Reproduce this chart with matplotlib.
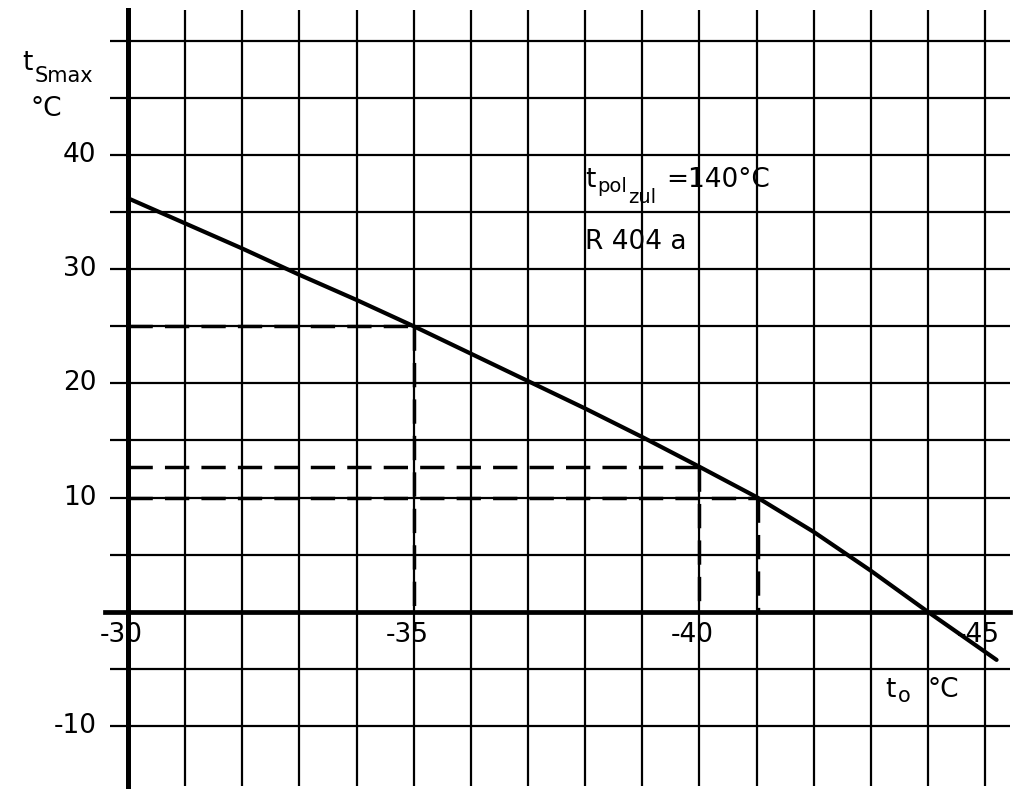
import matplotlib
matplotlib.use("Agg")
import matplotlib.pyplot as plt
import numpy as np

# Kurve t_Smax ueber t_0 (R404a, t_pol,zul = 140 C)
t0 = [-30, -31, -32, -33, -34, -35, -36, -37, -38, -39, -40, -41, -42, -43, -44, -45, -45.2]
tsmax = [36.2, 34.0, 31.8, 29.5, 27.3, 25.0, 22.6, 20.2, 17.8, 15.3, 12.7, 10.05, 7.0, 3.6, 0.0, -3.5, -4.2]

read_x = [-35, -40, -41.03]
read_y = [25, 12.7, 10]

x_grid = np.arange(-30, -46, -1)
y_grid = np.arange(-10, 55, 5)
x_ticks = [-30, -35, -40, -45]
x_ticklabels = ["-30", "-35", "-40", "-45"]
y_ticks = [40, 30, 20, 10, -10]
y_ticklabels = ["40", "30", "20", "10", "-10"]

plt.rcParams["font.family"] = ["DejaVu Sans"]

fig = plt.figure(figsize=(10.24, 8.01), dpi=100)
ax = fig.add_axes([0, 0, 1, 1])
ax.set_xlim(-27.76, -45.68)
ax.set_ylim(-16.55, 53.55)
ax.axis("off")

ytop, ybot = 52.7, -15.2
xleft, xright = -29.68, -45.44

# Gitter
ax.vlines(x_grid[1:], ybot, ytop, color="black", lw=1.6, zorder=1)
ax.hlines([y for y in y_grid if y != 0], xleft, xright, color="black", lw=1.6, zorder=1)

# gestrichelte Ablesehilfen
for xr, yr in zip(read_x, read_y):
    ax.plot([-30, xr], [yr, yr], color="black", lw=2.5, dashes=(7, 3.5), zorder=2)
    ax.plot([xr, xr], [yr, 0], color="black", lw=2.5, dashes=(7, 3.5), zorder=2)

# Achsen
ax.plot([-30, -30], [ybot, ytop], color="black", lw=3.6, zorder=3)
ax.plot([-29.6, xright], [0, 0], color="black", lw=3.4, zorder=3)

# Kurve
ax.plot(t0, tsmax, color="black", lw=3.0, solid_capstyle="round", zorder=4)

fs = 19
for xv, lab in zip(x_ticks, x_ticklabels):
    ax.text(xv + 0.12, -2.0, lab, fontsize=fs, ha="center", va="center")
for yv, lab in zip(y_ticks, y_ticklabels):
    ax.text(-29.45, yv, lab, fontsize=fs, ha="right", va="center")

# Achsbeschriftungen
ax.text(-28.15, 48.0, "t", fontsize=fs, ha="left", va="center")
ax.text(-28.37, 46.9, "Smax", fontsize=15, ha="left", va="center")
ax.text(-28.3, 44.0, "°C", fontsize=fs, ha="left", va="center")

ax.text(-43.25, -6.8, "t", fontsize=fs, ha="left", va="center")
ax.text(-43.48, -7.4, "o", fontsize=15, ha="left", va="center")
ax.text(-44.0, -6.8, "°C", fontsize=fs, ha="left", va="center")

ax.text(-38.0, 37.8, "t", fontsize=fs, ha="left", va="center")
ax.text(-38.21, 37.2, "pol", fontsize=14, ha="left", va="center")
ax.text(-38.76, 36.3, "zul", fontsize=14, ha="left", va="center")
ax.text(-39.42, 37.8, "=140°C", fontsize=fs, ha="left", va="center")
ax.text(-38.0, 32.4, "R 404 a", fontsize=fs, ha="left", va="center")

fig.savefig("out.png", dpi=100)
